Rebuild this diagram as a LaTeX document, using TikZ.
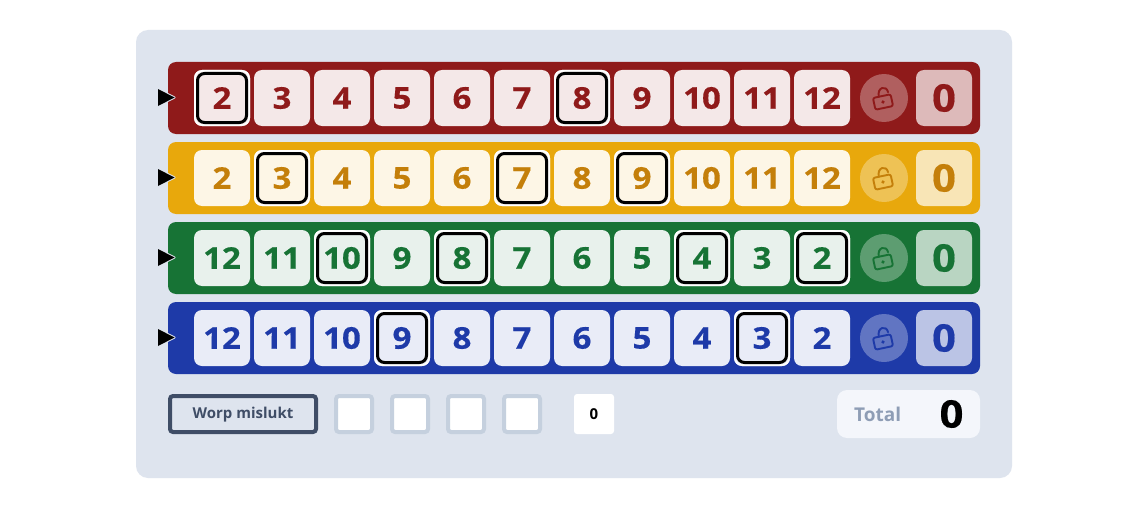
\documentclass[tikz,border=0pt]{standalone}
\usepackage{fontspec}
\setmainfont{Open Sans}
\newfontfamily\numfont{Open Sans}[FakeStretch=1.1,FakeBold=0.4]
\definecolor{panelc}{HTML}{DEE4EE}
\definecolor{rowA}{HTML}{8F1A1A}\definecolor{textA}{HTML}{8F1A1A}\definecolor{cellA}{HTML}{F4E8E8}
\definecolor{rowB}{HTML}{E8A80C}\definecolor{textB}{HTML}{C47F0A}\definecolor{cellB}{HTML}{FDF6E6}
\definecolor{rowC}{HTML}{177335}\definecolor{textC}{HTML}{177335}\definecolor{cellC}{HTML}{E8F1EC}
\definecolor{rowD}{HTML}{1E3AA8}\definecolor{textD}{HTML}{1E3AA8}\definecolor{cellD}{HTML}{E9ECF7}
\definecolor{slate}{HTML}{3F4D66}
\definecolor{boxedge}{HTML}{C5D0DE}
\definecolor{totalbg}{HTML}{F4F6FB}
\definecolor{totalfg}{HTML}{8E9DB5}
\tikzset{
  x=1pt,y=-1pt,
  rowbar/.style={minimum width=812pt,minimum height=72pt,rounded corners=8pt,inner sep=0},
  numcell/.style={minimum size=56pt,rounded corners=8pt,inner sep=0,font=\numfont\bfseries\fontsize{30}{30}\selectfont},
  scorecell/.style={minimum size=56pt,rounded corners=8pt,inner sep=0,font=\numfont\bfseries\fontsize{38}{38}\selectfont},
  pickring/.style={draw=black,line width=3pt,rounded corners=7pt,minimum size=49pt,inner sep=0},
  lockdisc/.style={circle,minimum size=48pt,inner sep=0},
  pointer/.style={fill=black,draw=#1,line width=2pt,line join=round},
  smallbox/.style={draw=boxedge,line width=4pt,fill=white,rounded corners=3pt,minimum size=36pt,inner sep=0},
}
\newcommand{\gamerow}[4]{% #1 letter, #2 row centre y, #3 number list, #4 picked list
  \node[rowbar,fill=row#1] (row#1) at (574,#2) {};
  \foreach \v [count=\i from 0] in {#3} {
    \pgfmathsetmacro{\cx}{221.5+60*\i}
    \node[numcell,fill=cell#1,text=text#1,minimum size=56pt] (c#1\i) at (\cx+.5,#2) {\v};
  }
  \foreach \i in {#4} {
    \node[minimum size=56pt,rounded corners=8pt,inner sep=0,fill=white] (w#1\i) at (c#1\i) {};
    \node[minimum size=52pt,rounded corners=6pt,inner sep=0,fill=cell#1,text=text#1,font=\numfont\bfseries\fontsize{30}{30}\selectfont] (p#1\i) at (c#1\i) {\foreach \v [count=\k from 0] in {#3} {\ifnum\k=\i\relax\v\fi}};
    \node[pickring] (r#1\i) at (c#1\i) {};
  }
  \node[lockdisc,fill=white,fill opacity=.3] (d#1) at (884,#2) {};
  \begin{scope}[shift={(883,#2+4)},rotate=12,draw=text#1,line width=1.9pt,line cap=round,line join=round]
    \draw[rounded corners=2pt] (-9,-6) rectangle (9,6);
    \fill[text#1] (0,0) circle (1.8pt);
    \draw (-3,-6) .. controls (-3,-16) and (7,-16) .. (7,-8.5);
  \end{scope}
  \node[scorecell,fill=white,fill opacity=.7,text opacity=1,text=text#1] (s#1) at (944,#2) {0};
  \coordinate (ta#1) at (158,#2-9);
  \coordinate (tb#1) at (174.5,#2-.5);
  \coordinate (tc#1) at (158,#2+8);
  \draw[pointer=panelc] (ta#1) -- (tb#1) -- (tc#1) -- cycle;
  \fill[black] (ta#1) -- (tb#1) -- (tc#1) -- cycle;
}
\begin{document}
\begin{tikzpicture}
\useasboundingbox (0,0) rectangle (1146,519);
\fill[white] (0,0) rectangle (1146,519);
\node[fill=panelc,minimum width=876pt,minimum height=448pt,rounded corners=12pt,inner sep=0] (panel) at (574,254) {};
\gamerow{A}{98}{2,3,4,5,6,7,8,9,10,11,12}{0,6}
\gamerow{B}{178}{2,3,4,5,6,7,8,9,10,11,12}{1,5,7}
\gamerow{C}{258}{12,11,10,9,8,7,6,5,4,3,2}{2,4,8,10}
\gamerow{D}{338}{12,11,10,9,8,7,6,5,4,3,2}{3,9}
\node[draw=slate,line width=4pt,rounded corners=3pt,minimum width=146pt,minimum height=36pt,inner sep=0,text=slate,text height=11pt,text depth=3pt,font=\bfseries\fontsize{15}{15}\selectfont] (fail) at (243,414) {Worp mislukt};
\foreach \x [count=\n] in {354,410,466,522} \node[smallbox] (b\n) at (\x,414) {};
\node[fill=white,rounded corners=3pt,minimum size=40pt,inner sep=0,font=\bfseries\fontsize{15}{15}\selectfont,text=black] (sum) at (594,414) {0};
\node[fill=totalbg,rounded corners=10pt,minimum width=143pt,minimum height=48pt,inner sep=0] (totalbox) at (908.5,414) {};
\node[anchor=west,inner sep=0,text=totalfg,text height=14pt,text depth=0pt,font=\bfseries\fontsize{19}{19}\selectfont] (totallabel) at (854,414) {Total};
\node[inner sep=0,text=black,font=\numfont\bfseries\fontsize{38}{38}\selectfont] (totalval) at (951.5,414) {0};
\end{tikzpicture}
\end{document}
